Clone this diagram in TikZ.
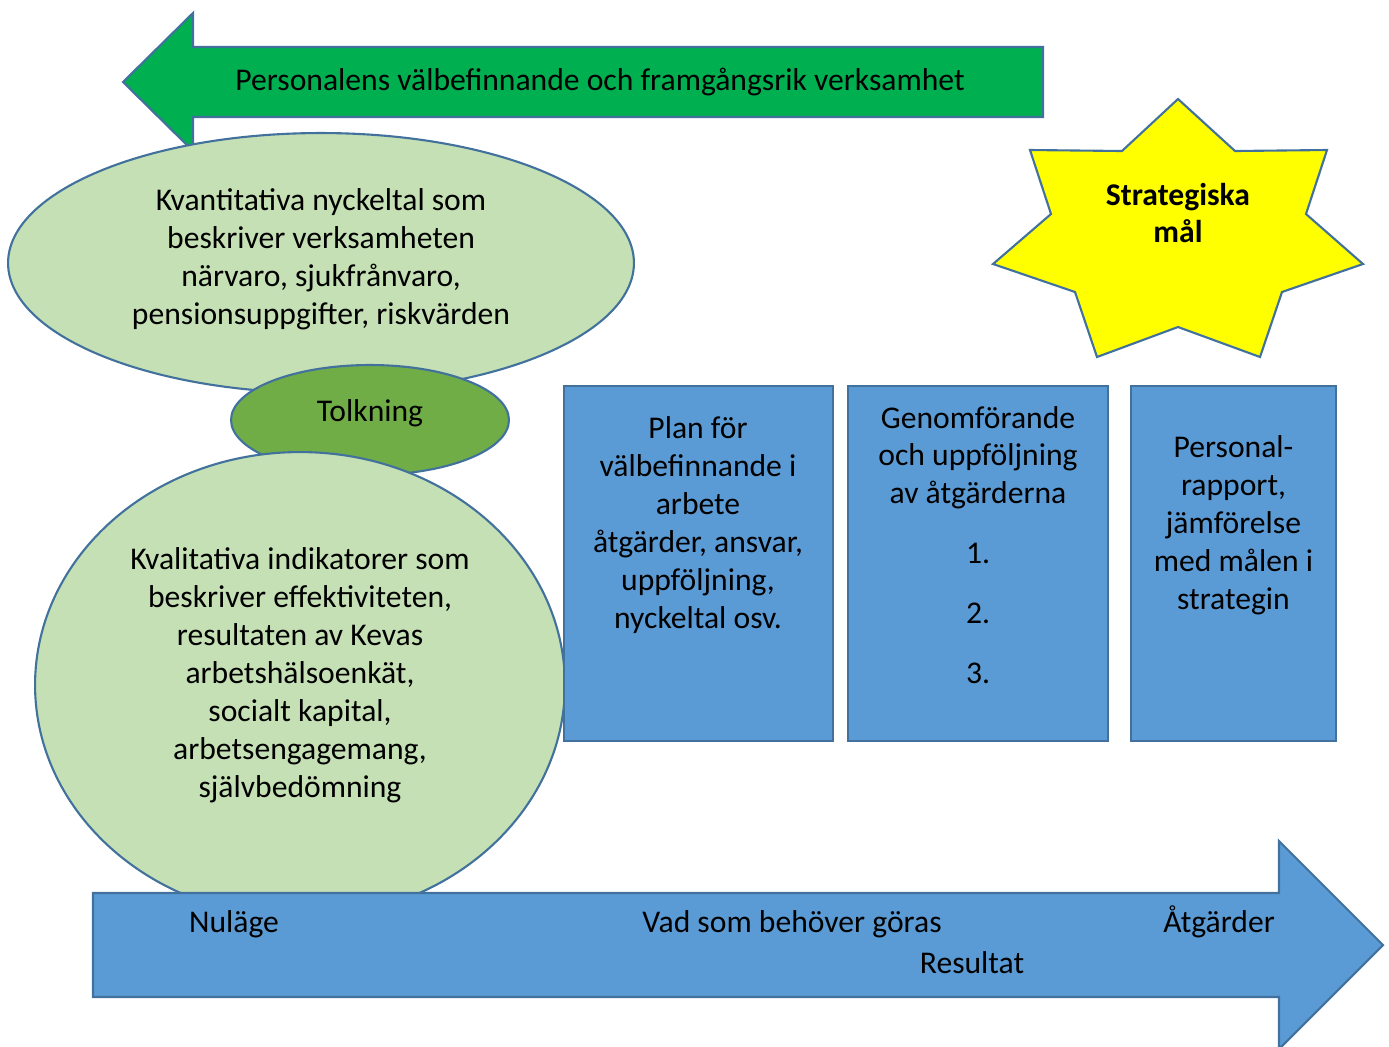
\documentclass[tikz,border=0pt]{standalone}
\usepackage{fontspec}
\setmainfont{Carlito}
\usepackage{xcolor}
\usepackage{tikz}
\usetikzlibrary{shapes.geometric, positioning}
\definecolor{kevagreen}{HTML}{00B050}
\definecolor{kevalight}{HTML}{C5E0B4}
\definecolor{kevamid}{HTML}{70AD47}
\definecolor{kevablue}{HTML}{5B9BD5}
\definecolor{kevaline}{HTML}{41719C}
\definecolor{kevayellow}{HTML}{FFFF00}
\tikzset{
  outline/.style={draw=kevaline, line width=1.2pt},
  bigtext/.style={font=\fontsize{18}{21.6}\selectfont, align=center, inner sep=0pt},
  bluebox/.style={outline, fill=kevablue, rectangle, minimum height=7.1cm, inner sep=0pt},
  oval/.style={outline, ellipse, inner sep=0pt}
}

\begin{document}
\begin{tikzpicture}[x=0.02cm, y=-0.02cm]
    \useasboundingbox (0,0) rectangle (1389,1046);
    % Top arrow
    \draw[outline, fill=kevagreen] (123,82) -- (193,13) -- (193,47) -- (1043,47) -- (1043,117) -- (193,117) -- (193,151) -- cycle;
    \node[bigtext] (welfare) at (600,82) {Personalens välbefinnande och framgångsrik verksamhet};
    % Ovals on the left
    \node[oval, fill=kevalight, minimum width=12.52cm, minimum height=5.2cm] (quant) at (321,263) {};
    \node[bigtext] (quanttext) at (321,259) {Kvantitativa nyckeltal som\\beskriver verksamheten\\närvaro, sjukfrånvaro,\\pensionsuppgifter, riskvärden};
    \node[oval, fill=kevamid, minimum width=5.56cm, minimum height=2.2cm] (tolk) at (370,420) {};
    \node[bigtext] (tolktext) at (370,413) {Tolkning};
    \node[oval, fill=kevalight, minimum width=10.6cm, minimum height=9.32cm] (qual) at (300,685) {};
    \node[bigtext] (qualtext) at (300,675) {Kvalitativa indikatorer som\\beskriver effektiviteten,\\resultaten av Kevas\\arbetshälsoenkät,\\socialt kapital,\\arbetsengagemang,\\självbedömning};
    % Star
    \draw[outline, fill=kevayellow] (1178,99) -- (1235,151) -- (1327,150) -- (1306,214) -- (1363,264) -- (1282,292) -- (1260,357) -- (1178,327) -- (1097,357) -- (1075,292) -- (993,264) -- (1051,214) -- (1030,150) -- (1122,151) -- cycle;
    \node[bigtext, font=\fontsize{18}{21.6}\selectfont\bfseries] (goals) at (1178,213) {Strategiska\\mål};
    % Boxes
    \node[bluebox, minimum width=5.38cm] (plan) at (698.5,563.5) {};
    \node[bigtext] (plantext) at (698,525) {Plan för\\välbefinnande i\\arbete\\åtgärder, ansvar,\\uppföljning,\\nyckeltal osv.};
    \node[bluebox, minimum width=5.2cm] (follow) at (978,563.5) {};
    \node[bigtext] (followtext) at (978,545) {Genomförande\\och uppföljning\\av åtgärderna\\[0.44cm]1.\\[0.44cm]2.\\[0.44cm]3.};
    \node[bluebox, minimum width=4.1cm] (report) at (1233.5,563.5) {};
    \node[bigtext] (reporttext) at (1233.5,525) {Personal-\\rapport,\\jämförelse\\med målen i\\strategin};
    % Bottom arrow
    \draw[outline, fill=kevablue] (93,893) -- (1279,893) -- (1279,841) -- (1383,945) -- (1279,1049) -- (1279,997) -- (93,997) -- cycle;
    \node[bigtext] (now) at (234,924) {Nuläge};
    \node[bigtext] (todo) at (792,924) {Vad som behöver göras};
    \node[bigtext] (actions) at (1219,922) {Åtgärder};
    \node[bigtext] (result) at (972,963) {Resultat};
\end{tikzpicture}
\end{document}
